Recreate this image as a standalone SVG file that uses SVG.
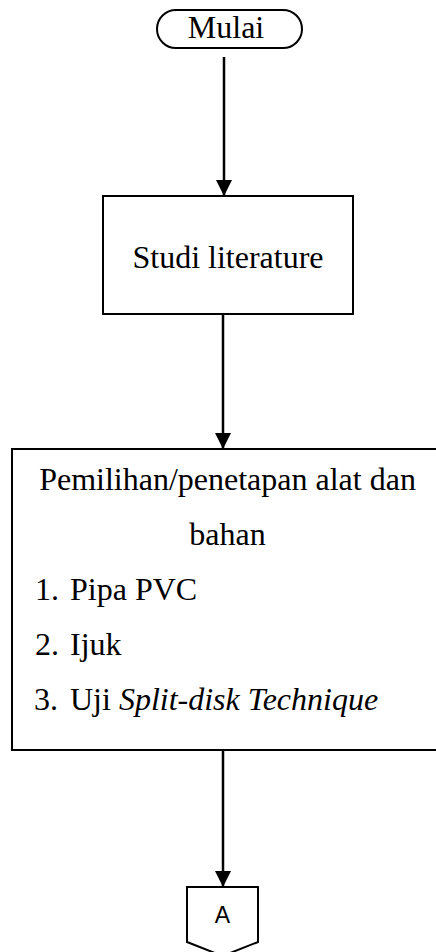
<svg xmlns="http://www.w3.org/2000/svg" width="436" height="952" viewBox="0 0 436 952">
<style>
.shape{fill:#fff;stroke:#000;stroke-width:2}
.t{font-family:"Liberation Serif","Times New Roman",serif;font-size:32px;fill:#000}
.c{text-anchor:middle}
.conn{stroke:#000;stroke-width:2.5;fill:none;marker-end:url(#arr)}
</style>
<defs>
<marker id="arr" markerUnits="userSpaceOnUse" markerWidth="16" markerHeight="16" viewBox="0 0 16 16" refX="16" refY="8" orient="auto">
<path d="M0,0 L16,8 L0,16 Z" fill="#000"/>
</marker>
</defs>
<rect width="436" height="952" fill="#fff"/>
<g id="connectors">
<line class="conn" x1="224" y1="57" x2="224" y2="196"/>
<line class="conn" x1="223" y1="315" x2="223" y2="449"/>
<line class="conn" x1="223" y1="751" x2="223" y2="887"/>
</g>
<g id="mulai">
<rect class="shape" x="157" y="10" width="145" height="38" rx="19" ry="19"/>
<text class="t c" x="226" y="38">Mulai</text>
</g>
<g id="studi">
<rect class="shape" x="103" y="196" width="250" height="118"/>
<text class="t c" x="228" y="268">Studi literature</text>
</g>
<g id="pemilihan">
<rect class="shape" x="12" y="449" width="432" height="301"/>
<text class="t c" x="227.5" y="490">Pemilihan/penetapan alat dan</text>
<text class="t c" x="227.5" y="545">bahan</text>
<text class="t" x="35" y="600">1.</text>
<text class="t" x="70" y="600">Pipa PVC</text>
<text class="t" x="35" y="655">2.</text>
<text class="t" x="70" y="655">Ijuk</text>
<text class="t" x="34" y="710">3.</text>
<text class="t" x="70" y="710">Uji <tspan font-style="italic">Split-disk Technique</tspan></text>
</g>
<g id="A">
<path class="shape" d="M187,887 L258,887 L258,942 L222.5,956 L187,942 Z"/>
<text x="222.5" y="923" text-anchor="middle" font-family="'Liberation Sans',Arial,sans-serif" font-size="23">A</text>
</g>
</svg>
